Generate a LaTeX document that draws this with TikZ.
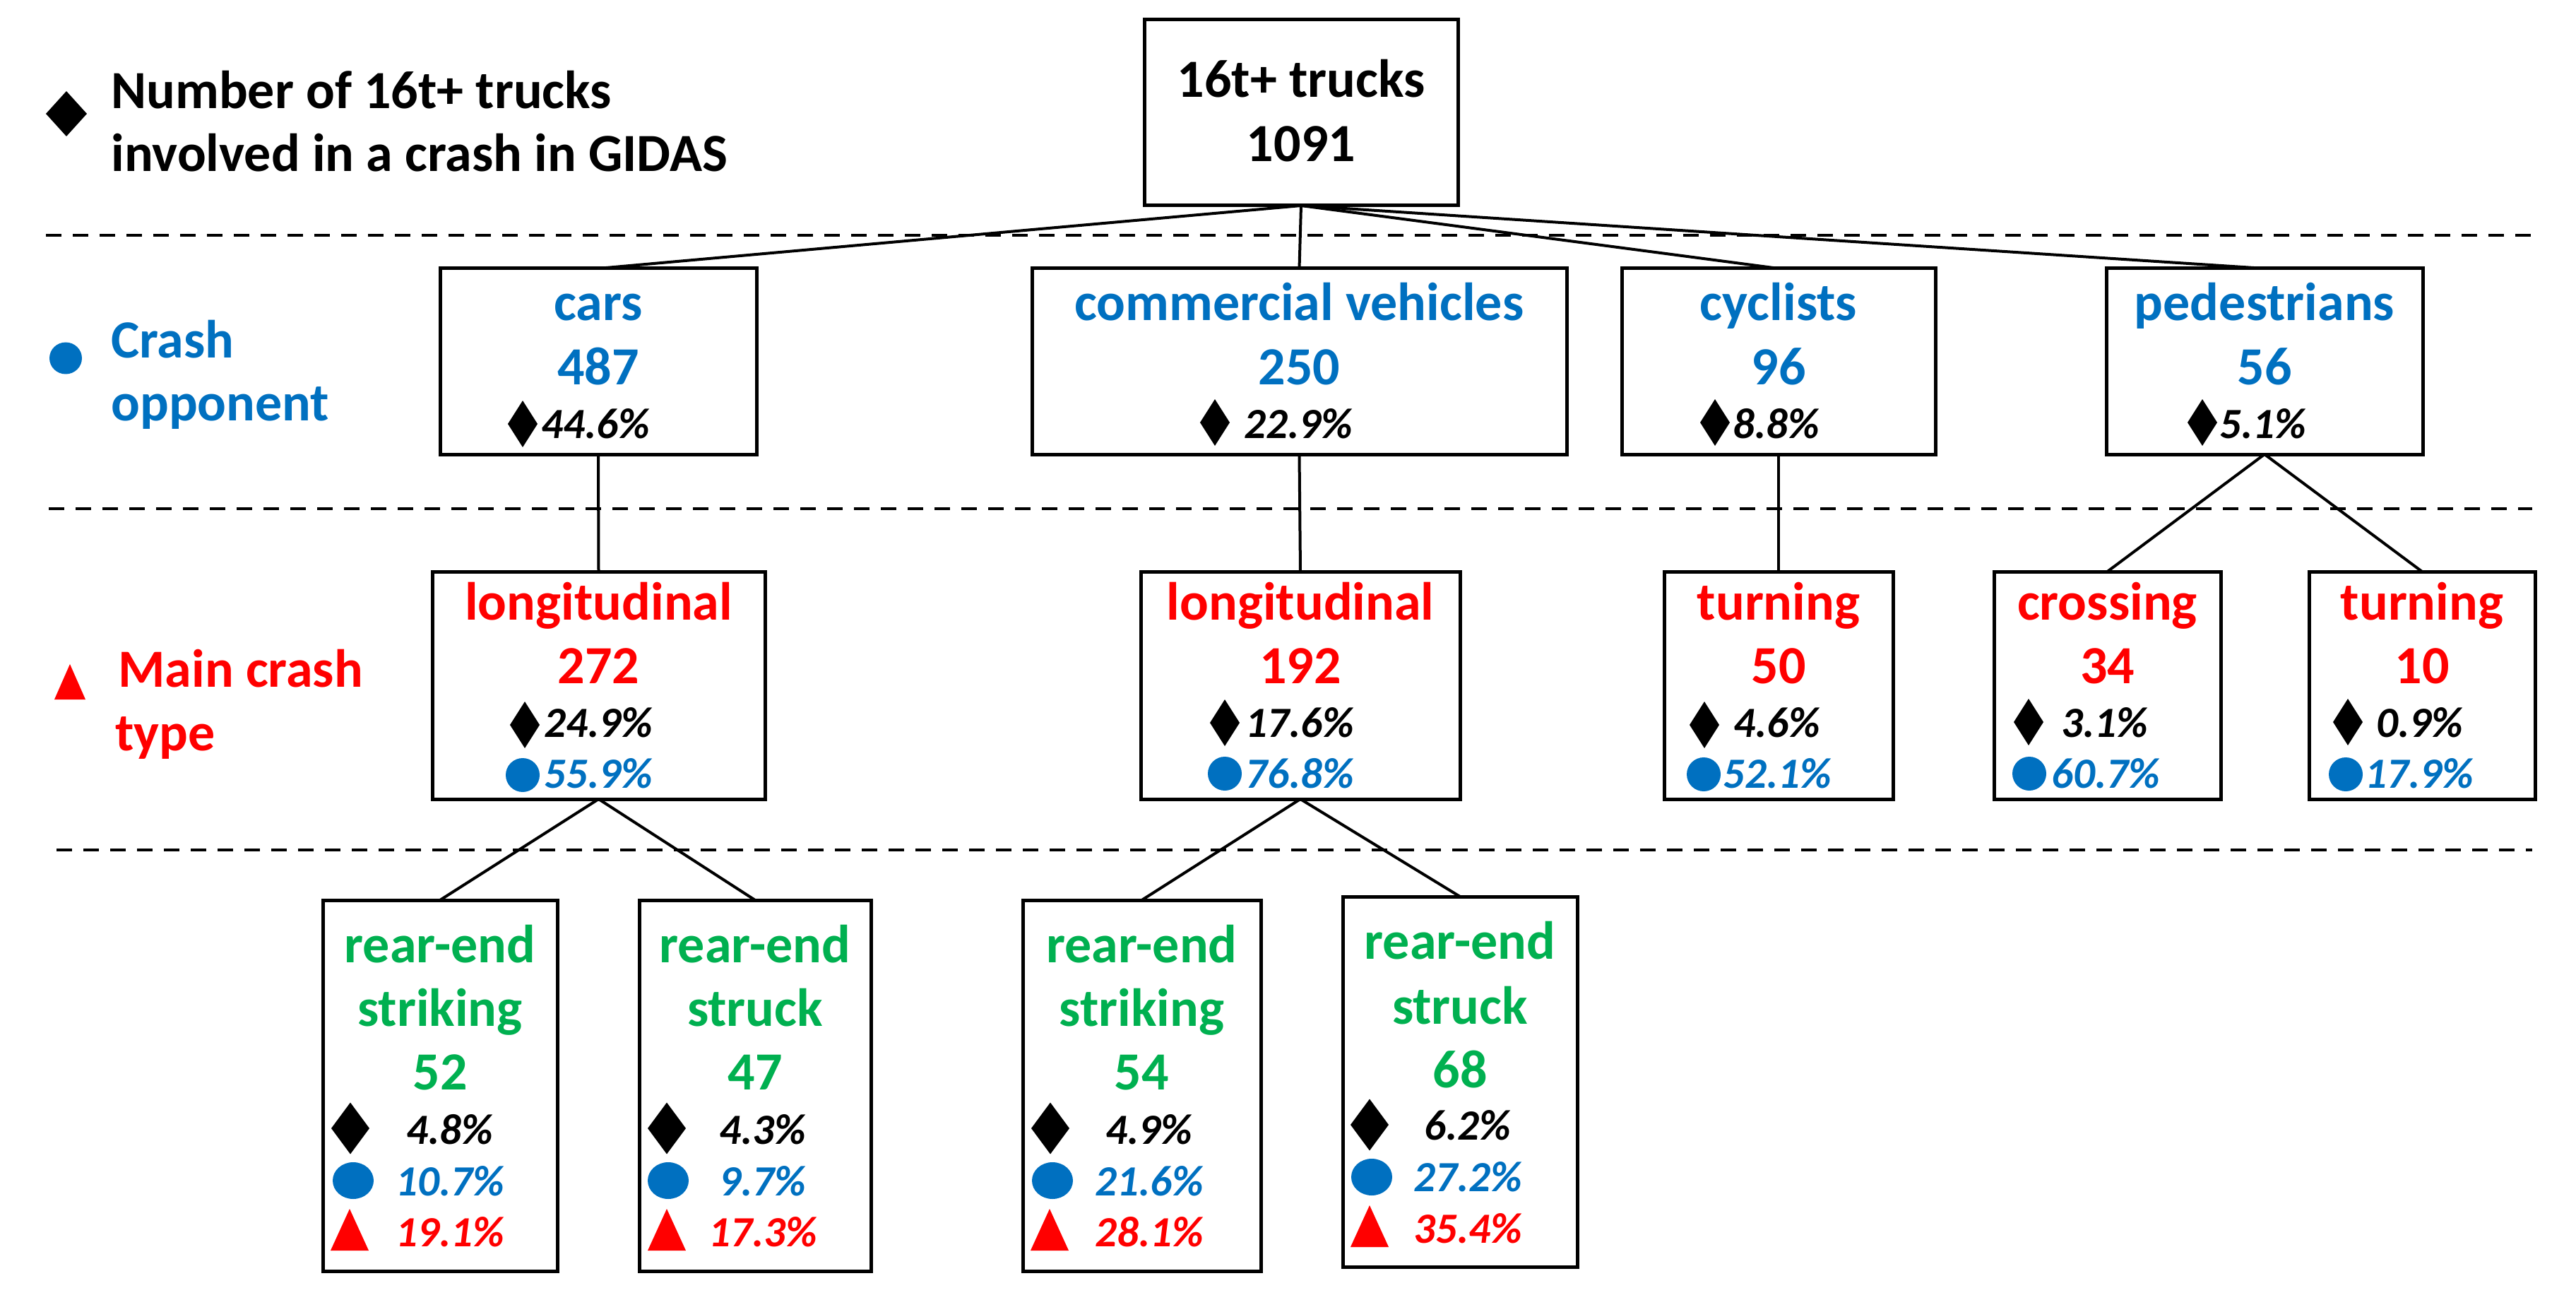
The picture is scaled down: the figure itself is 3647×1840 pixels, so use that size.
\documentclass[tikz,border=0pt]{standalone}
\usepackage{fontspec}
\setmainfont{Carlito}
\usetikzlibrary{shapes.geometric}
\definecolor{cblue}{HTML}{0070C0}
\definecolor{cred}{HTML}{FF0000}
\definecolor{cgreen}{HTML}{00B050}
\begin{document}
\begin{tikzpicture}[x=0.5pt,y=-0.5pt,
  box/.style={draw=black, line width=2.5pt, inner sep=0pt, outer sep=0pt, fill=white},
  conn/.style={line width=2pt},
  sepline/.style={line width=2.2pt, dash pattern=on 11pt off 8pt},
  big/.style={font=\bfseries\fontsize{38}{40}\selectfont, anchor=base, inner sep=0pt},
  leg/.style={big, anchor=base west},
  pc/.style={font=\bfseries\itshape\fontsize{30.5}{32}\selectfont, anchor=base west, inner sep=0pt},
  pcc/.style={pc, anchor=base},
  diasym/.style={diamond, fill=black, draw=none, inner sep=0pt, outer sep=0pt, minimum width=21pt, minimum height=33pt},
  diabig/.style={diasym, minimum width=27pt, minimum height=36.5pt},
  dialeg/.style={diasym, minimum width=29pt, minimum height=32pt},
  circsym/.style={ellipse, fill=cblue, draw=none, inner sep=0pt, outer sep=0pt, minimum width=24pt, minimum height=24pt},
  circbig/.style={circsym, minimum width=29pt, minimum height=26pt},
  circleg/.style={circsym, minimum width=23pt, minimum height=22.5pt}
]
\useasboundingbox (0,0) rectangle (3647,1840);

% separators
\draw[sepline] (65,333) -- (3585,333);
\draw[sepline] (69,720) -- (3585,720);
\draw[sepline] (80,1203) -- (3585,1203);

% boxes
\node[box, minimum width=222pt, minimum height=131.5pt] (top) at (1842,159.5) {};
\node[box, minimum width=224pt, minimum height=131.5pt] (cars) at (847,511.5) {};
\node[box, minimum width=378.5pt, minimum height=131.5pt] (comm) at (1839.5,511.5) {};
\node[box, minimum width=222pt, minimum height=131.5pt] (cyc) at (2518,511.5) {};
\node[box, minimum width=224pt, minimum height=131.5pt] (ped) at (3206,511.5) {};
\node[box, minimum width=235.5pt, minimum height=161pt] (long1) at (847.5,970) {};
\node[box, minimum width=226pt, minimum height=161pt] (long2) at (1841,970) {};
\node[box, minimum width=162pt, minimum height=161pt] (turn1) at (2518,970) {};
\node[box, minimum width=160.5pt, minimum height=161pt] (cross) at (2983.5,970) {};
\node[box, minimum width=160pt, minimum height=161pt] (turn2) at (3429,970) {};
\node[box, minimum width=166pt, minimum height=262.5pt] (s1) at (623,1536.5) {};
\node[box, minimum width=164pt, minimum height=262.5pt] (k1) at (1069,1536.5) {};
\node[box, minimum width=168.5pt, minimum height=262.5pt] (s2) at (1616.5,1536.5) {};
\node[box, minimum width=166pt, minimum height=262pt] (k2) at (2067,1531) {};

% connectors
\draw[conn] (top.south) -- (cars.north);
\draw[conn] (top.south) -- (comm.north);
\draw[conn] (top.south) -- (cyc.north);
\draw[conn] (top.south) -- (ped.north);
\draw[conn] (cars.south) -- (long1.north);
\draw[conn] (comm.south) -- (long2.north);
\draw[conn] (cyc.south) -- (turn1.north);
\draw[conn] (ped.south) -- (cross.north);
\draw[conn] (ped.south) -- (turn2.north);
\draw[conn] (long1.south) -- (s1.north);
\draw[conn] (long1.south) -- (k1.north);
\draw[conn] (long2.south) -- (s2.north);
\draw[conn] (long2.south) -- (k2.north);

% legend
\node[dialeg] (legdia) at (94,161) {};
\node[leg] (leg1) at (157,154) {Number of 16t+ trucks};
\node[leg] (leg2) at (157,243) {involved in a crash in GIDAS};
\node[circleg] (legcirc) at (93,507) {};
\node[leg, text=cblue] (leg3) at (157,507) {Crash};
\node[leg, text=cblue] (leg4) at (157,596) {opponent};
\fill[cred] (77,990) -- (121,990) -- (99,940) -- cycle;
\node[leg, text=cred] (leg5) at (167,972) {Main crash};
\node[leg, text=cred] (leg6) at (163,1062) {type};

% top box
\node[big] (toptxt1) at (1842,138) {16t+ trucks};
\node[big] (toptxt2) at (1842,229) {1091};

% level 1
\node[big, text=cblue] (carsT) at (847,454) {cars};
\node[big, text=cblue] (carsN) at (847,545) {487};
\node[diasym] (carsD) at (740,600) {};
\node[pc] (carsP) at (766,620) {44.6\%};

\node[big, text=cblue] (commT) at (1839.5,454) {commercial vehicles};
\node[big, text=cblue] (commN) at (1839.5,545) {250};
\node[diasym] (commD) at (1720,598) {};
\node[pc] (commP) at (1761,620) {22.9\%};

\node[big, text=cblue] (cycT) at (2518,454) {cyclists};
\node[big, text=cblue] (cycN) at (2518,545) {96};
\node[diasym] (cycD) at (2428,598) {};
\node[pc] (cycP) at (2453,620) {8.8\%};

\node[big, text=cblue] (pedT) at (3206,454) {pedestrians};
\node[big, text=cblue] (pedN) at (3206,545) {56};
\node[diasym] (pedD) at (3118,598) {};
\node[pc] (pedP) at (3142,620) {5.1\%};

% level 2
\node[big, text=cred] (l1T) at (847.5,877) {longitudinal};
\node[big, text=cred] (l1N) at (847.5,967) {272};
\node[diasym] (l1D) at (743,1026) {};
\node[pc] (l1P) at (770,1043) {24.9\%};
\node[circsym] (l1C) at (740,1097) {};
\node[pc, text=cblue] (l1Q) at (770,1115) {55.9\%};

\node[big, text=cred] (l2T) at (1841,877) {longitudinal};
\node[big, text=cred] (l2N) at (1841,967) {192};
\node[diasym] (l2D) at (1734,1023) {};
\node[pc] (l2P) at (1763,1043) {17.6\%};
\node[circsym] (l2C) at (1734,1095) {};
\node[pc, text=cblue] (l2Q) at (1763,1115) {76.8\%};

\node[big, text=cred] (t1T) at (2518,877) {turning};
\node[big, text=cred] (t1N) at (2518,967) {50};
\node[diasym] (t1D) at (2413,1026) {};
\node[pc] (t1P) at (2454,1043) {4.6\%};
\node[circsym] (t1C) at (2412,1096) {};
\node[pc, text=cblue] (t1Q) at (2439,1115) {52.1\%};

\node[big, text=cred] (crT) at (2983.5,877) {crossing};
\node[big, text=cred] (crN) at (2983.5,967) {34};
\node[diasym] (crD) at (2872,1022) {};
\node[pc] (crP) at (2918,1043) {3.1\%};
\node[circsym] (crC) at (2873,1095) {};
\node[pc, text=cblue] (crQ) at (2904,1115) {60.7\%};

\node[big, text=cred] (t2T) at (3429,877) {turning};
\node[big, text=cred] (t2N) at (3429,967) {10};
\node[diasym] (t2D) at (3324,1022) {};
\node[pc] (t2P) at (3364,1043) {0.9\%};
\node[circsym] (t2C) at (3321,1096) {};
\node[pc, text=cblue] (t2Q) at (3348,1115) {17.9\%};

% level 3
\node[big, text=cgreen] (s1a) at (623,1362) {rear-end};
\node[big, text=cgreen] (s1b) at (623,1452) {striking};
\node[big, text=cgreen] (s1c) at (623,1542) {52};
\node[diabig] (s1D) at (496,1597) {};
\node[circbig] (s1C) at (500,1671) {};
\fill[cred] (468,1770) -- (522,1770) -- (495,1711) -- cycle;
\node[pcc] (s1P) at (637,1619) {4.8\%};
\node[pcc, text=cblue] (s1Q) at (637,1692) {10.7\%};
\node[pcc, text=cred] (s1R) at (637,1764) {19.1\%};

\node[big, text=cgreen] (k1a) at (1069,1362) {rear-end};
\node[big, text=cgreen] (k1b) at (1069,1452) {struck};
\node[big, text=cgreen] (k1c) at (1069,1542) {47};
\node[diabig] (k1D) at (944,1597) {};
\node[circbig] (k1C) at (946,1671) {};
\fill[cred] (917,1770) -- (971,1770) -- (944,1711) -- cycle;
\node[pcc] (k1P) at (1080,1619) {4.3\%};
\node[pcc, text=cblue] (k1Q) at (1080,1692) {9.7\%};
\node[pcc, text=cred] (k1R) at (1080,1764) {17.3\%};

\node[big, text=cgreen] (s2a) at (1616.5,1362) {rear-end};
\node[big, text=cgreen] (s2b) at (1616.5,1452) {striking};
\node[big, text=cgreen] (s2c) at (1616.5,1542) {54};
\node[diabig] (s2D) at (1487,1597) {};
\node[circbig] (s2C) at (1490,1671) {};
\fill[cred] (1459,1770) -- (1513,1770) -- (1486,1711) -- cycle;
\node[pcc] (s2P) at (1627,1619) {4.9\%};
\node[pcc, text=cblue] (s2Q) at (1627,1692) {21.6\%};
\node[pcc, text=cred] (s2R) at (1627,1764) {28.1\%};

\node[big, text=cgreen] (k2a) at (2067,1357) {rear-end};
\node[big, text=cgreen] (k2b) at (2067,1449) {struck};
\node[big, text=cgreen] (k2c) at (2067,1539) {68};
\node[diabig] (k2D) at (1939,1592) {};
\node[circbig] (k2C) at (1942,1666) {};
\fill[cred] (1912,1765) -- (1966,1765) -- (1939,1706) -- cycle;
\node[pcc] (k2P) at (2078,1613) {6.2\%};
\node[pcc, text=cblue] (k2Q) at (2078,1686) {27.2\%};
\node[pcc, text=cred] (k2R) at (2078,1759) {35.4\%};
\end{tikzpicture}
\end{document}
